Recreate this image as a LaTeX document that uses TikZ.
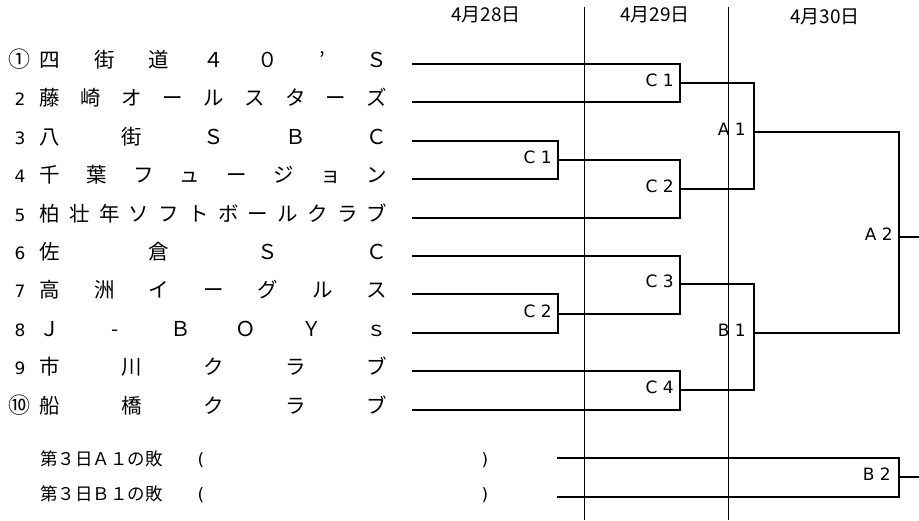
\documentclass[tikz,border=0pt]{standalone}
\usepackage{fontspec}
\setmainfont{DejaVu Sans}
\newfontfamily\jpfont{Noto Sans CJK JP}
\usetikzlibrary{positioning}

% one team row: row number, seed label, number of characters, characters
\newcommand\teamrow[4]{%
  \pgfmathsetmacro\rowy{round(64+(#1-1)*38.4)}
  \node[seed] (n#1) at (20,\rowy) {#2};
  \coordinate (s#1) at (413,\rowy);
  \foreach \ch [count=\k] in {#4}
    \node[team] (t#1-\k) at ({50+(\k-1)*327/(#3-1)},\rowy) {\ch};
}

\begin{document}
\begin{tikzpicture}[
  x=1pt, y=-1pt,
  team/.style={inner sep=0pt, text height=0.88em, text depth=0.12em,
    font=\jpfont\fontsize{20.5}{22}\selectfont},
  seed/.style={inner sep=0pt, text height=0.73em, text depth=0pt,
    font=\fontsize{17}{19}\selectfont},
  daylbl/.style={inner sep=0pt, text height=0.88em, text depth=0.12em,
    font=\jpfont\fontsize{19}{21}\selectfont},
  match/.style={inner sep=0pt, text height=0.73em, text depth=0pt,
    font=\fontsize{17}{19}\selectfont},
  note/.style={inner sep=0pt, text height=0.88em, text depth=0.12em,
    font=\jpfont\fontsize{17.5}{19}\selectfont},
  bracket/.style={line width=2pt, line cap=rect},
  daysep/.style={line width=1pt},
]
\useasboundingbox (0,0) rectangle (919,520);

% ============================================================
% day headers and separators
% ============================================================
\node[daylbl] (d28) at (486,18) {4月28日};
\node[daylbl] (d29) at (655,18) {4月29日};
\node[daylbl] (d30) at (825,20) {4月30日};

\coordinate (sepa) at (584.5,7);
\coordinate (sepb) at (728.5,7);
\draw[daysep] (sepa) -- (sepa |- 0,520);
\draw[daysep] (sepb) -- (sepb |- 0,520);

% ============================================================
% teams
% ============================================================
\teamrow{1}{\jpfont\fontsize{22}{24}\selectfont ①}{7}{四,街,道,４,０,’,Ｓ}
\teamrow{2}{2}{9}{藤,崎,オ,ー,ル,ス,タ,ー,ズ}
\teamrow{3}{3}{5}{八,街,Ｓ,Ｂ,Ｃ}
\teamrow{4}{4}{8}{千,葉,フ,ュ,ー,ジ,ョ,ン}
\teamrow{5}{5}{12}{柏,壮,年,ソ,フ,ト,ボ,ー,ル,ク,ラ,ブ}
\teamrow{6}{6}{4}{佐,倉,Ｓ,Ｃ}
\teamrow{7}{7}{7}{高,洲,イ,ー,グ,ル,ス}
\teamrow{8}{8}{6}{Ｊ,-,Ｂ,Ｏ,Ｙ,ｓ}
\teamrow{9}{9}{5}{市,川,ク,ラ,ブ}
\teamrow{10}{\jpfont\fontsize{22}{24}\selectfont ⑩}{5}{船,橋,ク,ラ,ブ}

% --- losers of day 3 ---
\node[note, anchor=west] (lose1) at (40,462) {第３日Ａ１の敗};
\node[note, anchor=west] (lose2) at (40,497) {第３日Ｂ１の敗};
\node[match] (lo1) at (201,462) {(};
\node[match] (lc1) at (485,462) {)};
\node[match] (lo2) at (201,497) {(};
\node[match] (lc2) at (485,497) {)};
\coordinate (l1) at (558,458);
\coordinate (l2) at (558,497);

% ============================================================
% bracket junctions
% ============================================================
\coordinate (m28a) at (558,160);
\coordinate (m28b) at (558,314);
\coordinate (m29a) at (680,83);
\coordinate (m29b) at (680,189);
\coordinate (m29c) at (680,284);
\coordinate (m29d) at (680,390);
\coordinate (a1) at (754,132);
\coordinate (b1) at (754,333);
\coordinate (a2) at (899,237);
\coordinate (b2) at (899,477);
\coordinate (e1) at (919,237);
\coordinate (e2) at (919,477);

\draw[bracket] (s3) -| (m28a) |- (s4);
\draw[bracket] (s7) -| (m28b) |- (s8);
\draw[bracket] (s1) -| (m29a) |- (s2);
\draw[bracket] (m28a) -| (m29b) |- (s5);
\draw[bracket] (s6) -| (m29c) |- (m28b);
\draw[bracket] (s9) -| (m29d) |- (s10);
\draw[bracket] (m29a) -| (a1) |- (m29b);
\draw[bracket] (m29c) -| (b1) |- (m29d);
\draw[bracket] (a1) -| (a2) |- (b1);
\draw[bracket] (a2) -- (e1);
\draw[bracket] (l1) -| (b2) |- (l2);
\draw[bracket] (b2) -- (e2);

% match labels
\node[match, left=6pt of m28a] (lc28a) {C 1};
\node[match, left=6pt of m28b] (lc28b) {C 2};
\node[match, left=6pt of m29a] (lc29a) {C 1};
\node[match, left=6pt of m29b] (lc29b) {C 2};
\node[match, left=6pt of m29c] (lc29c) {C 3};
\node[match, left=6pt of m29d] (lc29d) {C 4};
\node[match, left=8pt of a1] (la1) {A 1};
\node[match, left=8pt of b1] (lb1) {B 1};
\node[match, left=6pt of a2] (la2) {A 2};
\node[match, left=8pt of b2] (lb2) {B 2};

\end{tikzpicture}
\end{document}
